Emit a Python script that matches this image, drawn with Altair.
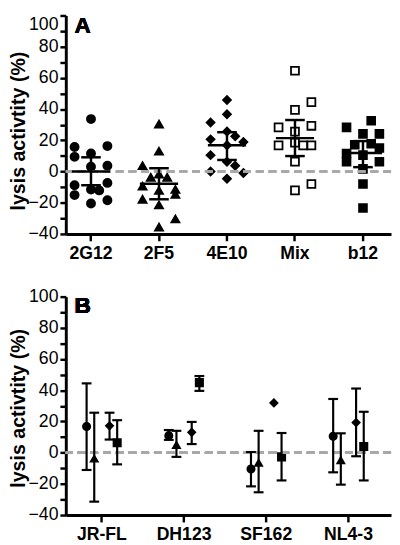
import altair as alt
import pandas as pd

# ---------------- Panel A data ----------------
a_groups = ["2G12", "2F5", "4E10", "Mix", "b12"]

a_vals_2G12 = [33.6, 15.7, 16.3, 9.4, 11.5, 3.1, 3.7, -8.8, -7.3, -11.5, -12.1, -15.1, -18.4, -20.5]
a_slot_2G12 = [0, -2, 2, -2, 0, 0, 2, -2, 2, 0, 1, -2, 2, 0]

a_vals_2F5 = [30.4, 13.0, 3.7, -1.7, -3.7, -3.7, -9.4, -12.1, -11.5, -14.7, -17.8, -21.4, -30.4, -35.6]
a_slot_2F5 = [0, 0, -2, 0, -1, 1, -2, 0, 2, 2, -2, 0, 2, 0]

a_vals_4E10 = [45.8, 36.7, 31.4, 25.6, 22.6, 20.6, 18.9, 16.8, 10.5, 6.3, 3.7, 0.0, -1.0, -4.6]
a_slot_4E10 = [0, 0, -2, 0, 1, -2, 2, 0, -2, 0, 1, -2, 2, 0]

a_vals_Mix = [64.6, 44.5, 39.5, 28.3, 29.3, 25.6, 16.8, 18.5, 16.8, 16.8, 6.3, -12.1, -8.0]
a_slot_Mix = [0, 2, 0, -2, 2, 0, -2, 0, 1, 2, 0, 0, 2]

a_vals_b12 = [28.3, 32.5, 24.1, 24.1, 17.2, 17.8, 15.1, 11.5, 10.5, 6.3, 6.3, 1.7, -8.0, -23.4]
a_slot_b12 = [-2, 1, 0, 2, -1, 1, 2, -2, 0, -2, 2, 0, 0, 0]

a_mean = [0.0, -7.9, 16.8, 21.4, 11.9]
a_lo = [-8.8, -17.8, 7.4, 9.9, 2.8]
a_hi = [9.1, 2.1, 25.2, 33.0, 19.5]

# ---------------- Panel B data ----------------
b_strains = ["JR-FL", "DH123", "SF162", "NL4-3"]
b_antibodies = ["2G12", "2F5", "4E10", "b12"]

b_val_2G12 = [16.8, 10.9, -10.5, 10.5]
b_lo_2G12 = [-11.1, 8.2, -21.6, -12.6]
b_hi_2G12 = [44.4, 14.5, 0.4, 34.4]

b_val_2F5 = [-3.8, 5.0, -6.5, -4.8]
b_lo_2F5 = [-31.4, -2.7, -25.4, -20.5]
b_hi_2F5 = [25.6, 14.0, 14.0, 12.4]

b_val_4E10 = [17.2, 13.0, 31.9, 19.3]
b_lo_4E10 = [8.4, 5.5, None, -2.3]
b_hi_4E10 = [25.6, 19.7, None, 41.1]

b_val_b12 = [6.3, 44.9, -2.7, 4.0]
b_lo_b12 = [-7.5, 39.6, -17.8, -17.8]
b_hi_b12 = [20.8, 49.1, 12.6, 26.2]

y_title = "lysis activtity (%)"
slot_domain = [-2, -1, 0, 1, 2]
b_offset_domain = ["2G12", "2F5", " ", "4E10", "b12"]

# ---------------- Tables ----------------
a_vals = [a_vals_2G12, a_vals_2F5, a_vals_4E10, a_vals_Mix, a_vals_b12]
a_slots = [a_slot_2G12, a_slot_2F5, a_slot_4E10, a_slot_Mix, a_slot_b12]
rows = []
for g, vs, ss in zip(a_groups, a_vals, a_slots):
    for v, s in zip(vs, ss):
        rows.append({"group": g, "slot": s, "value": v})
df_a = pd.DataFrame(rows)
df_a_stats = pd.DataFrame({"group": a_groups, "mean": a_mean, "lo": a_lo, "hi": a_hi})

b_vals = [b_val_2G12, b_val_2F5, b_val_4E10, b_val_b12]
b_los = [b_lo_2G12, b_lo_2F5, b_lo_4E10, b_lo_b12]
b_his = [b_hi_2G12, b_hi_2F5, b_hi_4E10, b_hi_b12]
rows = []
for ab, vs, los, his in zip(b_antibodies, b_vals, b_los, b_his):
    for st, v, lo, hi in zip(b_strains, vs, los, his):
        rows.append({"strain": st, "ab": ab, "value": v, "lo": lo, "hi": hi})
df_b = pd.DataFrame(rows)
df_b_err = df_b.dropna(subset=["lo", "hi"])

W = 332
H = 223
FONT = "Liberation Sans"

y_scale = alt.Scale(domain=[-40, 100], nice=False, zero=False)
y_values = list(range(-40, 101, 10))


def y_axis(top_baseline_fix, title_y):
    kw = dict(
        values=y_values,
        labelExpr="datum.value % 20 == 0 ? datum.label : ''",
        labelOverlap=False,
        title=y_title,
        titleFontSize=20,
        titleFontWeight="bold",
        titleFont=FONT,
        titlePadding=0,
        titleY=title_y,
        labelPadding=2,
    )
    if top_baseline_fix:
        kw["labelBaseline"] = {"condition": {"test": "datum.value == 100", "value": "top"}, "value": "middle"}
    return alt.Axis(**kw)


x_axis = alt.Axis(title=None, labelAngle=0, labelFontWeight="bold", tickSize=7, labelPadding=4)

# ---------------- Panel A ----------------
ax_ya = y_axis(True, H / 2 + 6)
xa = alt.X("group:N", sort=a_groups, axis=x_axis,
           scale=alt.Scale(domain=a_groups, paddingInner=0.517, paddingOuter=0.15, align=0.43))


def ya(field):
    return alt.Y(field, scale=y_scale, axis=ax_ya, title=y_title)


zero_a = alt.Chart(df_a_stats).mark_rule(color="#a8a8a8", strokeWidth=2, strokeDash=[8, 5]).encode(
    y=alt.datum(0, scale=y_scale, axis=ax_ya, title=y_title)
)

pts_a = alt.Chart(df_a).mark_point(opacity=1, strokeWidth=1.8, stroke="black").encode(
    x=xa,
    xOffset=alt.XOffset("slot:O", scale=alt.Scale(domain=slot_domain, paddingInner=0, paddingOuter=0)),
    y=ya("value:Q"),
    shape=alt.Shape("group:N", scale=alt.Scale(domain=a_groups,
                    range=["circle", "triangle-up", "diamond", "square", "square"]), legend=None),
    fill=alt.Fill("group:N", scale=alt.Scale(domain=a_groups,
                  range=["black", "black", "black", "transparent", "black"]), legend=None),
    size=alt.Size("group:N", scale=alt.Scale(domain=a_groups, range=[69, 64, 54, 38, 53]), legend=None),
)

st_a = alt.Chart(df_a_stats)
err_a = st_a.mark_rule(color="black", strokeWidth=2.5).encode(x=xa, y=ya("lo:Q"), y2="hi:Q")
mean_a = st_a.mark_tick(color="black", thickness=2.5, size=39, opacity=1).encode(x=xa, y=ya("mean:Q"))
capl_a = st_a.mark_tick(color="black", thickness=2.5, size=20, opacity=1).encode(x=xa, y=ya("lo:Q"))
caph_a = st_a.mark_tick(color="black", thickness=2.5, size=20, opacity=1).encode(x=xa, y=ya("hi:Q"))

letter_a = alt.Chart(df_a_stats).mark_text(
    text="A", fontSize=23, fontWeight="bold", font=FONT, align="left", baseline="top", color="black"
).encode(x=alt.value(9), y=alt.value(0))

panel_a = alt.layer(pts_a, zero_a, err_a, mean_a, capl_a, caph_a, letter_a).properties(width=W, height=H)

# ---------------- Panel B ----------------
ax_yb = y_axis(False, H / 2 + 2)
xb = alt.X("strain:N", sort=b_strains, axis=x_axis,
           scale=alt.Scale(domain=b_strains, paddingInner=0.535, paddingOuter=0.246, align=0.42))
xob = alt.XOffset("ab:N", scale=alt.Scale(domain=b_offset_domain, paddingInner=0, paddingOuter=0))


def yb(field):
    return alt.Y(field, scale=y_scale, axis=ax_yb, title=y_title)


zero_b = alt.Chart(df_b).mark_rule(color="#a8a8a8", strokeWidth=2, strokeDash=[8, 5]).encode(
    y=alt.datum(0, scale=y_scale, axis=ax_yb, title=y_title)
)

pts_b = alt.Chart(df_b).mark_point(opacity=1, strokeWidth=1.5, stroke="black").encode(
    x=xb,
    xOffset=xob,
    y=yb("value:Q"),
    shape=alt.Shape("ab:N", scale=alt.Scale(domain=b_antibodies,
                    range=["circle", "triangle-up", "diamond", "square"]), legend=None),
    fill=alt.Fill("ab:N", scale=alt.Scale(domain=b_antibodies,
                  range=["black", "black", "black", "black"]), legend=None),
    size=alt.Size("ab:N", scale=alt.Scale(domain=b_antibodies, range=[60, 60, 30, 56]), legend=None),
)

eb = alt.Chart(df_b_err)
err_b = eb.mark_rule(color="black", strokeWidth=2.2).encode(x=xb, xOffset=xob, y=yb("lo:Q"), y2="hi:Q")
capl_b = eb.mark_tick(color="black", thickness=2.2, size=10, opacity=1).encode(x=xb, xOffset=xob, y=yb("lo:Q"))
caph_b = eb.mark_tick(color="black", thickness=2.2, size=10, opacity=1).encode(x=xb, xOffset=xob, y=yb("hi:Q"))

letter_b = alt.Chart(df_b).mark_text(
    text="B", fontSize=23, fontWeight="bold", font=FONT, align="left", baseline="alphabetic", color="black"
).encode(x=alt.value(9), y=alt.value(17))

panel_b = alt.layer(pts_b, zero_b, err_b, capl_b, caph_b, letter_b).properties(width=W, height=H)

chart = alt.vconcat(panel_a, panel_b, spacing=64, bounds="flush").resolve_scale(
    xOffset="independent", shape="independent", fill="independent", size="independent"
).properties(
    padding=0, background="white"
).configure_view(stroke=None).configure_axis(
    domainColor="black", domainWidth=3, tickColor="black", tickWidth=2.5, tickSize=6,
    labelColor="black", labelFont=FONT, labelFontSize=18, titleColor="black", grid=False,
    labelOverlap=False,
)

chart.save("out.html", embed_options={"renderer": "svg", "actions": False})
